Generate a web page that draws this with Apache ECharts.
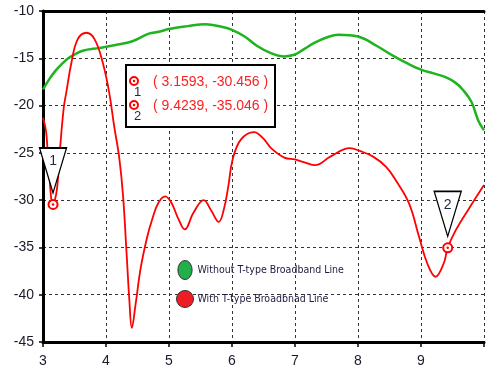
<!DOCTYPE html>
<html>
<head>
<meta charset="utf-8">
<script src="https://cdn.jsdelivr.net/npm/echarts@6/dist/echarts.min.js"></script>
<style>html,body{margin:0;padding:0;background:#fff;}#c{width:487px;height:373px;}</style>
</head>
<body>
<div id="c"></div>
<script>
// ---- data ----
var seriesNames = ['Without T-type Broadband Line', 'With T-type Broadbnad Line'];
var greenX = [3.0, 3.1, 3.2, 3.3, 3.4, 3.5, 3.63, 3.9, 4.15, 4.42, 4.68, 4.84, 5.0, 5.3, 5.58, 5.85, 6.0, 6.2, 6.4, 6.6, 6.83, 7.0, 7.15, 7.3, 7.5, 7.69, 8.0, 8.3, 8.56, 8.8, 9.0, 9.2, 9.39, 9.55, 9.66, 9.8, 9.91, 10.0];
var greenY = [-18.3, -17.2, -16.3, -15.6, -15.0, -14.6, -14.2, -13.9, -13.6, -13.2, -12.4, -12.2, -11.9, -11.6, -11.4, -11.7, -12.0, -12.7, -13.7, -14.4, -14.8, -14.6, -14.0, -13.4, -12.8, -12.5, -12.7, -13.7, -14.75, -15.6, -16.2, -16.6, -17.0, -17.6, -18.3, -19.6, -21.6, -22.6];
var redX = [3.0, 3.05, 3.09, 3.1593, 3.22, 3.27, 3.33, 3.37, 3.45, 3.55, 3.69, 3.82, 3.95, 4.05, 4.13, 4.21, 4.27, 4.33, 4.37, 4.41, 4.47, 4.55, 4.65, 4.73, 4.83, 4.94, 5.04, 5.15, 5.25, 5.39, 5.55, 5.67, 5.79, 5.87, 5.94, 6.01, 6.14, 6.35, 6.5, 6.62, 6.83, 7.0, 7.15, 7.32, 7.56, 7.87, 8.03, 8.24, 8.45, 8.6, 8.81, 8.97, 9.1, 9.23, 9.36, 9.4239, 9.55, 9.76, 10.0];
var redY = [-21.3, -22.8, -26.5, -30.456, -28.9, -24.6, -20.2, -18.6, -15.5, -13.0, -12.3, -13.0, -15.5, -18.6, -22.2, -25.5, -29.5, -36.0, -40.5, -43.5, -41.0, -37.2, -34.0, -32.1, -30.3, -29.6, -30.3, -32.0, -33.1, -31.3, -30.0, -31.1, -32.3, -31.0, -28.6, -25.7, -23.6, -22.8, -23.5, -24.5, -25.5, -25.7, -26.0, -26.3, -25.4, -24.5, -24.8, -25.4, -26.5, -27.9, -30.35, -33.9, -36.7, -38.1, -36.7, -35.046, -33.2, -30.9, -28.4];
var markerX = [3.1593, 9.4239];
var markerY = [-30.456, -35.046];
var markerLabels = ['1', '2'];
var xTicks = [3, 4, 5, 6, 7, 8, 9];
var yTicks = [-10, -15, -20, -25, -30, -35, -40, -45];

function pairs(xs, ys) { return xs.map(function (x, i) { return [x, ys[i]]; }); }

var FONT = "'Liberation Sans', Arial, sans-serif";
var chart = echarts.init(document.getElementById('c'), null, {renderer: 'canvas'});

var ellipse = 'path://M0,10 A7.5,10 0 1,1 15,10 A7.5,10 0 1,1 0,10 Z';

var markData = [];
markerX.forEach(function (x, i) {
  markData.push({
    coord: [x, markerY[i]], symbol: 'triangle', symbolRotate: 180,
    symbolSize: [27, 45], symbolOffset: [0, -34],
    itemStyle: {color: '#fff', borderColor: '#000', borderWidth: 1.5},
    label: {show: true, formatter: markerLabels[i], position: 'inside', offset: [0, -9],
      color: '#1a2a48', fontSize: 14, fontFamily: FONT}
  });
  markData.push({
    coord: [x, markerY[i]], symbol: 'circle', symbolSize: 9,
    itemStyle: {color: '#fff', borderColor: '#ff0000', borderWidth: 2},
    label: {show: false}
  });
  markData.push({
    coord: [x, markerY[i]], symbol: 'circle', symbolSize: 2.5,
    itemStyle: {color: '#ff0000'}, label: {show: false}
  });
});

function fmt(i) { return '( ' + markerX[i].toFixed(4) + ', ' + markerY[i].toFixed(3) + ' )'; }

var graphics = [
  {type: 'rect', left: 125, top: 64, shape: {width: 149, height: 62},
   style: {fill: '#fff', stroke: '#000', lineWidth: 2}, z: 100}
];
[0, 1].forEach(function (i) {
  var cy = 81 + i * 24;
  graphics.push({type: 'circle', shape: {cx: 134, cy: cy, r: 4}, style: {fill: '#fff', stroke: '#ff0000', lineWidth: 2}, z: 101});
  graphics.push({type: 'circle', shape: {cx: 134, cy: cy, r: 1.2}, style: {fill: '#ff0000'}, z: 102});
  graphics.push({type: 'text', x: 137.5, y: cy + 11, style: {text: markerLabels[i], font: '13px ' + FONT, fill: '#1a2a48', align: 'center', verticalAlign: 'middle'}, z: 101});
  graphics.push({type: 'text', x: 153, y: cy + 1.5, style: {text: fmt(i), font: '14px ' + FONT, fill: '#ff2020', align: 'left', verticalAlign: 'middle'}, z: 101});
});

var option = {
  animation: false,
  backgroundColor: '#fff',
  grid: {left: 43, top: 11, right: 0, bottom: 31, containLabel: false},
  legend: {
    orient: 'vertical', left: 171, top: 255, itemGap: 10, itemWidth: 17, itemHeight: 19,
    textStyle: {color: '#1c1c3c', fontSize: 10.5, fontWeight: 'normal', fontFamily: "'DejaVu Sans Condensed', sans-serif", padding: [0, 0, 0, -1]},
    data: [
      {name: seriesNames[0], icon: ellipse, itemStyle: {color: '#22b04a', borderColor: '#333', borderWidth: 1}},
      {name: seriesNames[1], icon: 'circle', itemStyle: {color: '#ee1c24', borderColor: '#333', borderWidth: 1}}
    ]
  },
  xAxis: [{
    type: 'value', min: 3, max: 10, interval: 1,
    axisLine: {show: true, lineStyle: {color: '#000', width: 3}},
    axisTick: {show: true, length: 5, lineStyle: {color: '#000', width: 1.5}},
    axisLabel: {color: '#1a1a2a', fontSize: 14, fontFamily: FONT, margin: 12,
      formatter: function (v) { return xTicks.indexOf(v) >= 0 ? String(v) : ''; }},
    splitLine: {show: true, lineStyle: {color: '#333', type: [3, 3], width: 1}}
  }, {
    type: 'value', min: 3, max: 10, position: 'top',
    axisLine: {show: true, lineStyle: {color: '#000', width: 3}},
    axisTick: {show: false}, axisLabel: {show: false}, splitLine: {show: false}
  }],
  yAxis: {
    type: 'value', min: -45, max: -10, interval: 5,
    axisLine: {show: true, lineStyle: {color: '#000', width: 3}},
    axisTick: {show: true, length: 4, lineStyle: {color: '#000', width: 1.5}},
    axisLabel: {color: '#1a1a2a', fontSize: 14, fontFamily: FONT, margin: 9,
      formatter: function (v) { return yTicks.indexOf(v) >= 0 ? String(v) : ''; }},
    splitLine: {show: true, lineStyle: {color: '#333', type: [3, 3], width: 1}}
  },
  series: [{
    name: seriesNames[0], type: 'line', xAxisIndex: 0, data: pairs(greenX, greenY),
    showSymbol: false, symbol: 'none', smooth: 0.4,
    lineStyle: {color: '#1fb41f', width: 2.5}, itemStyle: {color: '#22b04a'}, z: 2
  }, {
    name: seriesNames[1], type: 'line', xAxisIndex: 0, data: pairs(redX, redY),
    showSymbol: false, symbol: 'none', smooth: 0.4,
    lineStyle: {color: '#ff0000', width: 1.8}, itemStyle: {color: '#ee1c24'}, z: 3,
    markPoint: {data: markData, animation: false}
  }],
  graphic: graphics
};
chart.setOption(option);
</script>
</body>
</html>
